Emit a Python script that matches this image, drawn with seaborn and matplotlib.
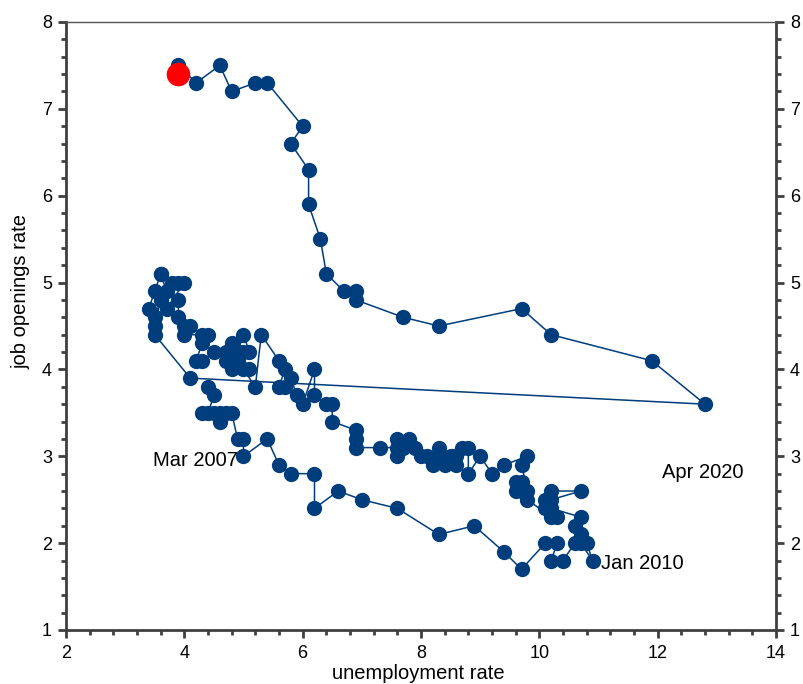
import matplotlib
matplotlib.use("Agg")
import matplotlib.pyplot as plt
import seaborn as sns
import pandas as pd
from matplotlib.ticker import MultipleLocator

# unemployment rate / job openings rate, month by month
unemp = [4.4, 4.5, 4.4, 4.3, 4.5, 4.6, 4.7, 4.6, 4.8, 4.9, 5.0, 5.0, 5.4, 5.6, 5.8,
         6.2, 6.2, 6.6, 7.0, 7.6, 8.3, 8.9, 9.4, 9.7, 10.1, 10.3, 10.2, 10.4, 10.6, 10.8,
         10.9,
         10.7, 10.7, 10.6, 10.7, 10.2, 10.1, 10.2, 10.7, 10.2, 10.3, 10.1, 10.2, 9.8, 9.7,
         9.6, 9.7, 9.6, 9.8, 9.7, 9.8, 9.4, 9.2, 9.0, 8.8, 8.8, 8.7, 8.6, 8.5, 8.6,
         8.4, 8.3, 8.3, 8.2, 8.1, 8.0, 7.9, 7.8, 7.7, 7.6, 7.6, 7.6, 7.3, 6.9, 6.9,
         6.9, 6.5, 6.5, 6.4, 6.2, 6.2, 6.0, 5.9, 5.8, 5.7, 5.6, 5.7, 5.6, 5.3, 5.2,
         5.0, 5.1, 4.9, 5.0, 4.9, 5.1, 5.0, 4.8, 4.7, 4.8, 4.7, 4.5, 4.3, 4.2, 4.3,
         4.3, 4.4, 4.0, 4.1, 4.0, 3.9, 3.9, 3.7, 4.0, 3.9, 3.8, 3.7, 3.6, 3.6, 3.5,
         3.4, 3.5, 3.6, 3.5, 3.5, 4.1,
         12.8, 11.9, 10.2, 9.7, 8.3, 7.7, 6.9, 6.9, 6.7, 6.4, 6.3, 6.1, 6.1, 5.8, 6.0,
         5.4, 5.2, 4.8, 4.6, 4.2, 3.9]
openings = [3.8, 3.7, 3.5, 3.5, 3.5, 3.4, 3.5, 3.5, 3.5, 3.2, 3.2, 3.0, 3.2, 2.9, 2.8,
            2.8, 2.4, 2.6, 2.5, 2.4, 2.1, 2.2, 1.9, 1.7, 2.0, 2.0, 1.8, 1.8, 2.0, 2.0,
            1.8,
            2.0, 2.1, 2.2, 2.3, 2.4, 2.5, 2.6, 2.6, 2.5, 2.3, 2.4, 2.3, 2.5, 2.6,
            2.7, 2.7, 2.6, 2.6, 2.9, 3.0, 2.9, 2.8, 3.0, 2.8, 3.1, 3.1, 2.9, 3.0, 3.0,
            2.9, 3.0, 3.1, 2.9, 3.0, 3.0, 3.1, 3.2, 3.1, 3.2, 3.0, 3.1, 3.1, 3.1, 3.2,
            3.3, 3.4, 3.6, 3.6, 3.7, 4.0, 3.6, 3.7, 3.9, 3.8, 3.8, 4.0, 4.1, 4.4, 3.8,
            4.0, 4.0, 4.1, 4.2, 4.2, 4.2, 4.4, 4.0, 4.1, 4.3, 4.2, 4.2, 4.1, 4.1, 4.3,
            4.4, 4.4, 4.4, 4.5, 4.5, 4.6, 4.8, 4.7, 5.0, 5.0, 5.0, 4.9, 5.1, 5.1, 4.9,
            4.7, 4.6, 4.8, 4.5, 4.4, 3.9,
            3.6, 4.1, 4.4, 4.7, 4.5, 4.6, 4.8, 4.9, 4.9, 5.1, 5.5, 5.9, 6.3, 6.6, 6.8,
            7.3, 7.3, 7.2, 7.5, 7.3, 7.5]
latest_u = [3.9]
latest_v = [7.4]
notes = ["Mar 2007", "Apr 2020", "Jan 2010"]
note_x = [3.47, 12.07, 11.04]
note_y = [2.95, 2.81, 1.77]

df = pd.DataFrame({"u": unemp, "v": openings})

sns.set_style("ticks")
plt.rcParams["font.family"] = ["Liberation Sans", "DejaVu Sans"]
plt.rcParams["text.color"] = "black"
plt.rcParams["axes.labelcolor"] = "black"
plt.rcParams["xtick.labelcolor"] = "black"
plt.rcParams["ytick.labelcolor"] = "black"

navy = "#003D7C"
fig = plt.figure(figsize=(8.04, 6.84), dpi=100)
ax = fig.add_axes([66 / 804, 1 - 630 / 684, 710 / 804, 608 / 684])

sns.lineplot(data=df, x="u", y="v", sort=False, estimator=None, color=navy,
             lw=1.1, marker="o", markersize=11, markeredgewidth=0, ax=ax)
ax.plot(latest_u, latest_v, "o", color="red", markersize=16, zorder=5)

for t, x, y in zip(notes, note_x, note_y):
    ax.text(x, y, t, fontsize=14.5, va="center", ha="left")

ax.set_xlim(2, 14)
ax.set_ylim(1, 8)
ax.xaxis.set_major_locator(MultipleLocator(2))
ax.xaxis.set_minor_locator(MultipleLocator(0.4))
ax.yaxis.set_major_locator(MultipleLocator(1))
ax.yaxis.set_minor_locator(MultipleLocator(0.2))
ax.tick_params(which="both", direction="out", color="#404040", width=2,
               right=True, labelright=True, top=False, labelsize=13)
ax.tick_params(which="major", length=6, pad=5)
ax.tick_params(which="minor", length=3.5)
ax.tick_params(axis="y", which="major", pad=4)

for side in ["left", "bottom", "right"]:
    ax.spines[side].set_linewidth(2)
    ax.spines[side].set_color("#404040")
ax.spines["top"].set_linewidth(1)
ax.spines["top"].set_color("#555555")

ax.set_xlabel("unemployment rate", fontsize=14.5)
ax.xaxis.set_label_coords(0.496, -0.072)
ax.xaxis.label.set_va("center")
ax.set_ylabel("job openings rate", fontsize=14.5)
ax.yaxis.set_label_coords(-0.064, 0.557)
ax.yaxis.label.set_va("center")

fig.savefig("out.png", dpi=100)
